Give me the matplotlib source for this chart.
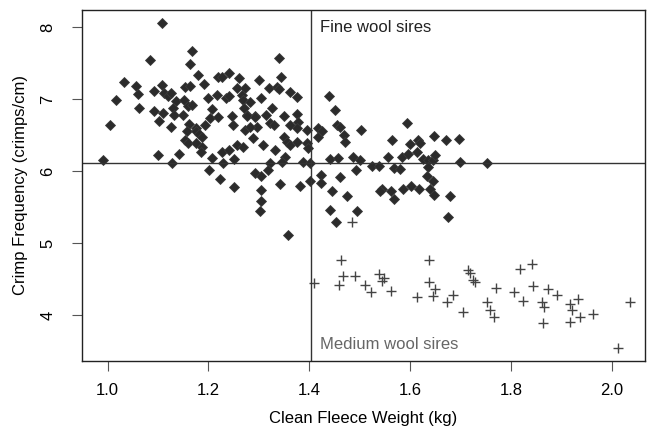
import matplotlib
matplotlib.use("Agg")
import matplotlib.pyplot as plt

plt.rcParams['font.family'] = ['Liberation Sans', 'DejaVu Sans']

# fine wool sires: clean fleece weight (kg), crimp frequency (crimps/cm)
fine_cfw = [
    1.107, 1.167, 1.085, 1.163, 1.033, 1.057, 1.060, 1.017, 1.092, 1.107,
    1.112, 1.119, 1.126, 1.136, 1.063, 1.092, 1.110, 1.101, 1.129, 1.132,
    1.149, 1.154, 1.164, 1.152, 1.159, 1.168, 1.180, 1.191, 1.199, 1.216,
    1.234, 1.240, 1.219, 1.226, 1.240, 1.261, 1.257, 1.273, 1.267, 1.269,
    1.271, 1.283, 1.301, 1.208, 1.193, 1.203, 1.219, 1.246, 1.249, 1.277,
    1.292, 1.126, 1.162, 1.175, 1.004,
    1.339, 1.343, 1.321, 1.335, 1.339, 1.362, 1.376, 1.305, 1.326, 1.440,
    1.296,
    0.991, 1.100, 1.141, 1.127, 1.157, 1.153, 1.159, 1.175, 1.181, 1.188,
    1.175, 1.187, 1.185, 1.208, 1.226, 1.241, 1.228, 1.250, 1.202, 1.223,
    1.251, 1.256,
    1.276, 1.292, 1.315, 1.349, 1.375, 1.378, 1.362, 1.322, 1.329, 1.272,
    1.282, 1.289, 1.309, 1.268, 1.332, 1.349, 1.355, 1.362, 1.375, 1.375,
    1.395, 1.418, 1.418, 1.425, 1.454, 1.461, 1.451, 1.469, 1.471, 1.502,
    1.395, 1.398, 1.352, 1.345, 1.322, 1.319, 1.292, 1.305, 1.342, 1.305,
    1.305, 1.303, 1.382, 1.388, 1.401, 1.401, 1.357, 1.423, 1.423, 1.444,
    1.460, 1.441, 1.456, 1.487, 1.501, 1.493, 1.475, 1.441, 1.494, 1.452,
    1.524, 1.539, 1.557, 1.563, 1.583, 1.596, 1.593, 1.600, 1.616, 1.620,
    1.614, 1.625, 1.636, 1.645, 1.649, 1.648, 1.567, 1.579, 1.636, 1.633,
    1.645, 1.640, 1.647, 1.618, 1.602, 1.585, 1.568, 1.561, 1.545, 1.540,
    1.672, 1.696, 1.679, 1.676, 1.699, 1.753,
]
fine_crimp = [
    8.06, 7.67, 7.55, 7.49, 7.24, 7.18, 7.07, 6.99, 7.12, 7.20,
    7.09, 7.05, 7.08, 6.98, 6.88, 6.84, 6.81, 6.70, 6.88, 6.78,
    6.78, 7.17, 7.19, 6.99, 6.91, 6.92, 7.33, 7.21, 7.01, 7.06,
    7.01, 7.05, 7.31, 7.31, 7.36, 7.30, 7.16, 7.16, 7.06, 6.99,
    6.88, 6.96, 7.27, 6.86, 6.64, 6.74, 6.75, 6.77, 6.64, 6.78,
    6.76, 6.61, 6.66, 6.60, 6.64,
    7.57, 7.31, 7.16, 7.17, 7.14, 7.10, 7.03, 7.01, 6.88, 7.04,
    6.62,
    6.16, 6.23, 6.24, 6.12, 6.56, 6.44, 6.39, 6.56, 6.52, 6.47,
    6.39, 6.33, 6.26, 6.18, 6.26, 6.29, 6.11, 6.17, 6.01, 5.89,
    5.78, 6.37,
    6.76, 6.75, 6.78, 6.77, 6.80, 6.69, 6.64, 6.67, 6.64, 6.57,
    6.62, 6.46, 6.37, 6.34, 6.30, 6.48, 6.41, 6.37, 6.41, 6.60,
    6.57, 6.60, 6.48, 6.56, 6.64, 6.62, 6.85, 6.50, 6.40, 6.57,
    6.39, 6.32, 6.20, 6.13, 6.11, 6.02, 5.97, 5.93, 5.82, 5.74,
    5.59, 5.45, 5.79, 6.13, 6.12, 5.86, 5.11, 5.95, 5.84, 5.73,
    5.92, 6.17, 6.18, 6.20, 6.16, 6.02, 5.66, 5.46, 5.45, 5.30,
    6.07, 6.07, 6.20, 6.44, 6.20, 6.24, 6.67, 6.38, 6.43, 6.39,
    6.27, 6.17, 6.16, 6.16, 6.23, 6.49, 6.05, 6.03, 6.06, 5.93,
    5.86, 5.75, 5.67, 5.76, 5.80, 5.76, 5.62, 5.73, 5.75, 5.73,
    6.44, 6.45, 5.65, 5.36, 6.13, 6.12,
]

# medium wool sires
medium_cfw = [
    1.485, 1.462, 1.638, 1.409, 1.466, 1.459, 1.491, 1.539, 1.548, 1.544,
    1.511, 1.522, 1.561, 1.614, 1.638, 1.649, 1.646, 1.673, 1.684, 1.704,
    1.714, 1.719, 1.724, 1.729,
    1.752, 1.759, 1.767, 1.770, 1.805, 1.817, 1.841, 1.843, 1.823, 1.861,
    1.866, 1.874, 1.891, 1.864, 1.917, 1.921, 1.932, 1.917, 1.937, 1.962,
    2.013, 2.035,
]
medium_crimp = [
    5.29, 4.77, 4.77, 4.45, 4.55, 4.42, 4.55, 4.57, 4.52, 4.47,
    4.42, 4.33, 4.34, 4.25, 4.46, 4.37, 4.27, 4.19, 4.28, 4.04,
    4.63, 4.59, 4.49, 4.46,
    4.18, 4.07, 3.98, 4.38, 4.32, 4.64, 4.71, 4.41, 4.20, 4.19,
    4.11, 4.37, 4.28, 3.89, 4.16, 4.07, 4.22, 3.90, 3.98, 4.02,
    3.54, 4.19,
]

cfw_cut = 1.403
crimp_cut = 6.12

x_ticks = [1.0, 1.2, 1.4, 1.6, 1.8, 2.0]
y_ticks = [4, 5, 6, 7, 8]

fig = plt.figure(figsize=(6.55, 4.36), dpi=100)
ax = fig.add_axes([0.125, 0.172, 0.86, 0.806])

ax.plot(fine_cfw, fine_crimp, linestyle='none', marker='D', markersize=4.8,
        markerfacecolor='#2b2b2b', markeredgecolor='#3a3a3a', markeredgewidth=0.6)
ax.plot(medium_cfw, medium_crimp, linestyle='none', marker='+', markersize=6.5,
        color='#444444', markeredgewidth=1.0)

ax.axvline(cfw_cut, color='#333333', linewidth=1.0)
ax.axhline(crimp_cut, color='#333333', linewidth=1.0)

ax.text(1.421, 7.99, 'Fine wool sires', fontsize=12, color='#222222',
        ha='left', va='center')
ax.text(1.421, 3.59, 'Medium wool sires', fontsize=12, color='#666666',
        ha='left', va='center')

ax.set_xlim(0.949, 2.066)
ax.set_ylim(3.365, 8.244)
ax.set_xticks(x_ticks)
ax.set_xticklabels(['%.1f' % t for t in x_ticks])
ax.set_yticks(y_ticks)
ax.set_yticklabels([str(t) for t in y_ticks], rotation=90, va='center')
ax.tick_params(direction='out', length=7, width=0.8, color='#555555',
               labelsize=12)
ax.tick_params(axis='x', pad=9)
ax.tick_params(axis='y', pad=12)

for s in ax.spines.values():
    s.set_linewidth(1.0)
    s.set_color('#222222')

ax.set_xlabel('Clean Fleece Weight (kg)', fontsize=12, labelpad=9)
ax.set_ylabel('Crimp Frequency (crimps/cm)', fontsize=12, labelpad=9)

fig.savefig('out.png', dpi=100)
